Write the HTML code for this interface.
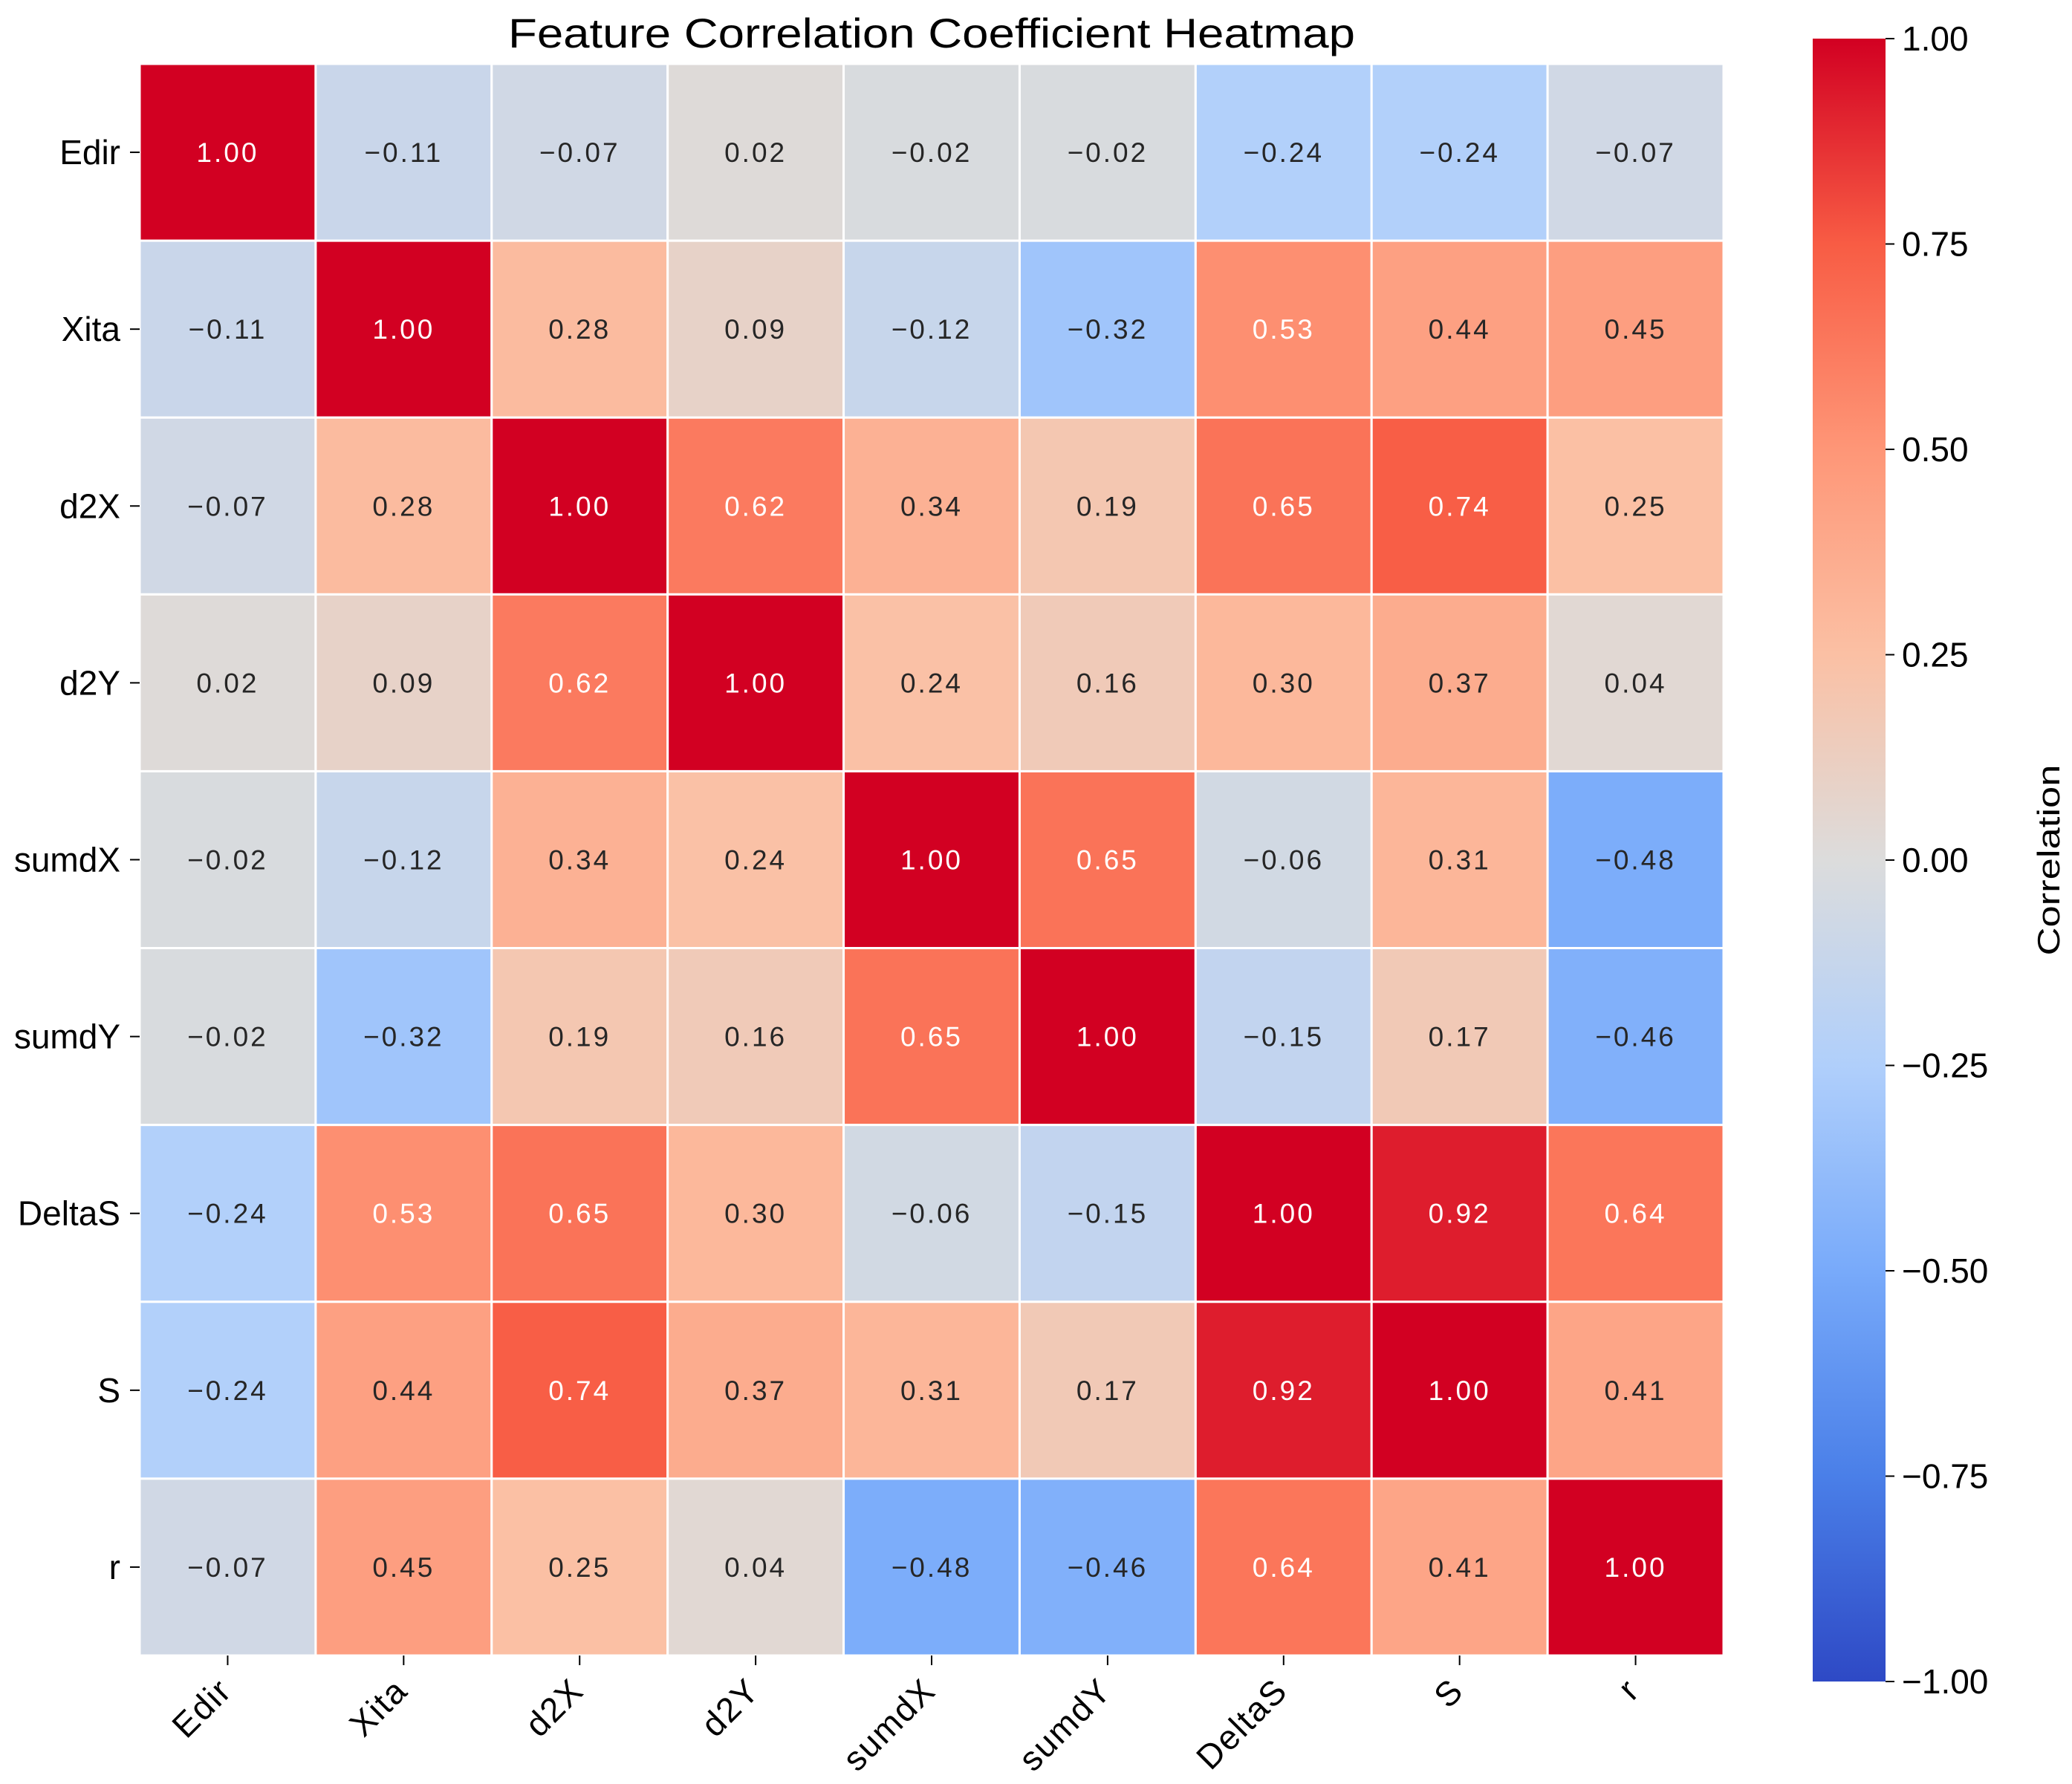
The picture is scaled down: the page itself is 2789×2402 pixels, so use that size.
<!DOCTYPE html>
<html><head><meta charset="utf-8">
<style>
html,body{margin:0;padding:0;background:#fff;}
svg{display:block;font-family:"Liberation Sans","IPAGothic",sans-serif;}
</style></head>
<body>
<svg id="chart" width="2789" height="2402" viewBox="0 0 2789 2402" xmlns="http://www.w3.org/2000/svg">
<defs><linearGradient id="cbgrad" x1="0" y1="1" x2="0" y2="0"></linearGradient></defs>
<text x="1254" y="64" text-anchor="middle" font-size="56" textLength="1140" lengthAdjust="spacingAndGlyphs">Feature Correlation Coefficient Heatmap</text>
<g id="cells"></g>
<g id="ylabels"></g>
<g id="xlabels"></g>
<g id="colorbar"></g>
</svg>
<script>
const labels = ["Edir","Xita","d2X","d2Y","sumdX","sumdY","DeltaS","S","r"];
const row0 = [1.00,-0.11,-0.07,0.02,-0.02,-0.02,-0.24,-0.24,-0.07];
const row1 = [-0.11,1.00,0.28,0.09,-0.12,-0.32,0.53,0.44,0.45];
const row2 = [-0.07,0.28,1.00,0.62,0.34,0.19,0.65,0.74,0.25];
const row3 = [0.02,0.09,0.62,1.00,0.24,0.16,0.30,0.37,0.04];
const row4 = [-0.02,-0.12,0.34,0.24,1.00,0.65,-0.06,0.31,-0.48];
const row5 = [-0.02,-0.32,0.19,0.16,0.65,1.00,-0.15,0.17,-0.46];
const row6 = [-0.24,0.53,0.65,0.30,-0.06,-0.15,1.00,0.92,0.64];
const row7 = [-0.24,0.44,0.74,0.37,0.31,0.17,0.92,1.00,0.41];
const row8 = [-0.07,0.45,0.25,0.04,-0.48,-0.46,0.64,0.41,1.00];
const matrix = [row0,row1,row2,row3,row4,row5,row6,row7,row8];
const cbTicks = [-1.00,-0.75,-0.50,-0.25,0.00,0.25,0.50,0.75,1.00];
const cmapColors = ["#2e49c5","#4a7fe8","#78aafa","#b0cffb","#dcdcdc","#fbc0a4","#fe9677","#f85c44","#d20022"];

const NS="http://www.w3.org/2000/svg";
const L=188,T=86,W=2132,H=2143;
const n=labels.length, cw=W/n, ch=H/n;
const vmin=-1,vmax=1;
const CBX=2440,CBW=98,CBT=52,CBB=2264;
function xPos(i){return L+i*cw;}
function yPos(j){return T+j*ch;}
function cbY(v){return CBB-(v-vmin)/(vmax-vmin)*(CBB-CBT);}
function hex2rgb(h){return [parseInt(h.slice(1,3),16),parseInt(h.slice(3,5),16),parseInt(h.slice(5,7),16)];}
function color(v){
  let t=(v-vmin)/(vmax-vmin)*(cmapColors.length-1);
  t=Math.max(0,Math.min(cmapColors.length-1,t));
  const i=Math.min(Math.floor(t),cmapColors.length-2), f=t-i;
  const a=hex2rgb(cmapColors[i]), b=hex2rgb(cmapColors[i+1]);
  return "rgb("+a.map((x,k)=>Math.round(x+(b[k]-x)*f)).join(",")+")";
}
function mk(tag,attrs,parent){const e=document.createElementNS(NS,tag);for(const k in attrs)e.setAttribute(k,attrs[k]);parent.appendChild(e);return e;}

const cells=document.getElementById('cells');
matrix.forEach((row,j)=>row.forEach((v,i)=>{
  const r=mk('rect',{x:xPos(i),y:yPos(j),width:cw,height:ch,fill:color(v),stroke:'#fff','stroke-width':3},cells);
  
  
  const t=mk('text',{x:xPos(i)+cw/2,y:yPos(j)+ch/2+13,'text-anchor':'middle','font-size':37,'letter-spacing':3,fill:(v>=0.5||v<=-0.6)?'#ffffff':'#262626'},cells);
  
  
  t.textContent=v.toFixed(2).replace('-','\u2212');
}));

const yl=document.getElementById('ylabels');
labels.forEach((lab,j)=>{
  const cy=yPos(j)+ch/2;
  const tk=mk('line',{x1:L-13,x2:L,y1:cy,y2:cy,stroke:'#000','stroke-width':2},yl);
  
  
  const t=mk('text',{x:L-26,y:cy+16,'text-anchor':'end','font-size':46},yl);
  
  
  t.textContent=lab;
});
const xl=document.getElementById('xlabels');
labels.forEach((lab,i)=>{
  const cx=xPos(i)+cw/2;
  const tk=mk('line',{x1:cx,x2:cx,y1:T+H,y2:T+H+13,stroke:'#000','stroke-width':2},xl);
  
  
  const ax=cx+8, ay=T+H+50;
  const t=mk('text',{x:ax,y:ay,'text-anchor':'end','font-size':46,'letter-spacing':2,transform:'rotate(-45 '+ax+' '+ay+')'},xl);
  
  
  t.textContent=lab;
});

const grad=document.getElementById('cbgrad');
cmapColors.forEach((c,k)=>{mk('stop',{offset:(k/(cmapColors.length-1)),'stop-color':c},grad);});
const cb=document.getElementById('colorbar');
const cbr=mk('rect',{x:CBX,y:CBT,width:CBW,height:CBB-CBT,fill:'url(#cbgrad)'},cb);


cbTicks.forEach(v=>{
  const y=cbY(v);
  const tk=mk('line',{x1:CBX+CBW,x2:CBX+CBW+12,y1:y,y2:y,stroke:'#000','stroke-width':2},cb);
  
  
  const t=mk('text',{x:CBX+CBW+22,y:y+16,'font-size':46},cb);
  
  
  t.textContent=v.toFixed(2).replace('-','\u2212');
});
const cl=mk('text',{x:2772,y:1158,'text-anchor':'middle','font-size':42,transform:'rotate(-90 2772 1158)',textLength:257,lengthAdjust:'spacingAndGlyphs'},cb);


cl.textContent='Correlation';
</script>
</body></html>
